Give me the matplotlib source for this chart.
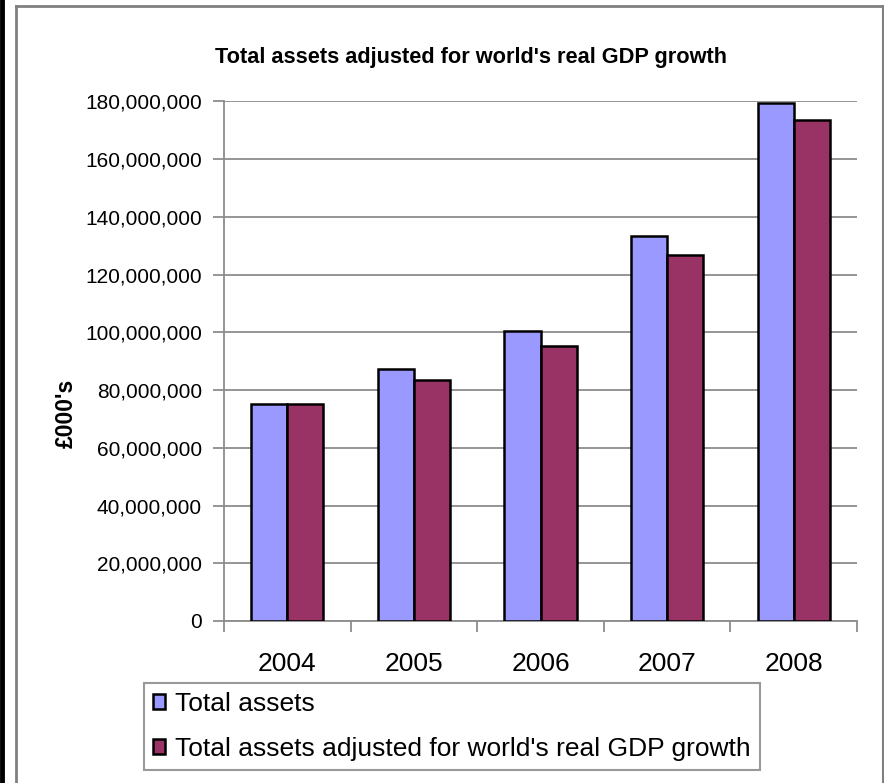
import matplotlib
matplotlib.use("Agg")
import matplotlib.pyplot as plt
from matplotlib.lines import Line2D
from matplotlib.patches import Patch
from matplotlib.ticker import FuncFormatter, FixedLocator
import numpy as np

years = ["2004", "2005", "2006", "2007", "2008"]
total_assets = [75_000_000, 87_400_000, 100_400_000, 133_400_000, 179_300_000]
adjusted_assets = [75_000_000, 83_500_000, 95_400_000, 126_800_000, 173_400_000]
series_names = ["Total assets", "Total assets adjusted for world's real GDP growth"]
title = "Total assets adjusted for world's real GDP growth"
y_label = "£000's"

plt.rcParams["font.family"] = ["Liberation Sans", "DejaVu Sans"]

W, H = 884, 783
fig = plt.figure(figsize=(W / 100, H / 100), dpi=100)

def fx(px):
    return px / W

def fy(py):
    return 1 - py / H

# outer frame and left border
fig.add_artist(Line2D([fx(16), fx(16)], [fy(6), -0.01], color="#808080", lw=2, transform=fig.transFigure))
fig.add_artist(Line2D([fx(16), fx(883)], [fy(6), fy(6)], color="#808080", lw=2, transform=fig.transFigure))
fig.add_artist(Line2D([fx(882.5), fx(882.5)], [fy(6), -0.01], color="#808080", lw=1.5, transform=fig.transFigure))
fig.add_artist(Line2D([fx(2), fx(2)], [0, 1], color="black", lw=3.5, transform=fig.transFigure))

ax = fig.add_axes([fx(224), fy(621), fx(857) - fx(224), fy(101.3) - fy(621)])

x = np.arange(len(years))
bw = 1 / 3.5
colors = ["#9999FF", "#993366"]
for i, (vals, c) in enumerate(zip([total_assets, adjusted_assets], colors)):
    ax.bar(x + (i - 0.5) * bw, vals, width=bw, color=c, edgecolor="black",
           linewidth=1.8, zorder=3, label=series_names[i])

ax.set_xlim(-0.5, len(years) - 0.5)
ax.set_ylim(0, 180_000_000)
ax.set_yticks(np.arange(0, 180_000_001, 20_000_000))
ax.yaxis.set_major_formatter(FuncFormatter(lambda v, p: f"{int(v):,}"))
ax.grid(axis="y", color="#8c8c8c", lw=1.3, zorder=0)
ax.set_axisbelow(True)

ax.set_xticks(x)
ax.set_xticklabels(years, fontsize=19)
ax.xaxis.set_minor_locator(FixedLocator(np.arange(-0.5, len(years), 1)))
ax.tick_params(axis="x", which="major", length=0, pad=22)
ax.tick_params(axis="x", which="minor", length=8, width=1.3, color="#8c8c8c", direction="out")
ax.tick_params(axis="y", length=8, width=1.3, color="#8c8c8c", direction="out", labelsize=15, pad=8)

for s in ["top", "right"]:
    ax.spines[s].set_visible(False)
for s in ["left", "bottom"]:
    ax.spines[s].set_color("#8c8c8c")
    ax.spines[s].set_linewidth(1.3)

fig.text(fx(471), fy(57), title, ha="center", va="center", fontsize=15.7, fontweight="bold")
fig.text(fx(66), fy(413), y_label, ha="center", va="center", rotation=90, fontsize=16.5, fontweight="bold")

handles = [Patch(facecolor=c, edgecolor="black", linewidth=1.8) for c in colors]
leg = fig.legend(handles, series_names, loc="upper left",
                 bbox_to_anchor=(fx(144), fy(683)), fontsize=19,
                 frameon=True, fancybox=False, edgecolor="#808080",
                 handlelength=0.45, handleheight=0.5, handletextpad=0.38,
                 labelspacing=0.78, borderpad=0.35, borderaxespad=0)
leg.get_frame().set_linewidth(1.5)

fig.savefig("out.png", dpi=100)
